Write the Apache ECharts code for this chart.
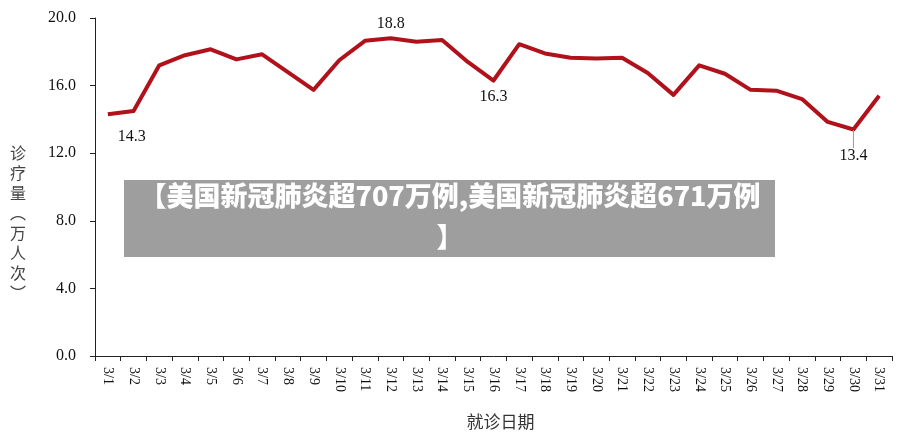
<!DOCTYPE html>
<html>
<head>
<meta charset="utf-8">
<script src="https://cdn.jsdelivr.net/npm/echarts@6/dist/echarts.min.js"></script>
<style>
  html, body { margin: 0; padding: 0; background: #fff; }
  #chart { width: 900px; height: 437px; }
</style>
</head>
<body>
<div id="chart"></div>
<script>
var days = ['3/1', '3/2', '3/3', '3/4', '3/5', '3/6', '3/7', '3/8', '3/9', '3/10',
  '3/11', '3/12', '3/13', '3/14', '3/15', '3/16', '3/17', '3/18', '3/19', '3/20',
  '3/21', '3/22', '3/23', '3/24', '3/25', '3/26', '3/27', '3/28', '3/29', '3/30', '3/31'];
var visits = [14.3, 14.5, 17.2, 17.8, 18.15, 17.55, 17.85, 16.8, 15.75, 17.5,
  18.65, 18.8, 18.6, 18.7, 17.4, 16.3, 18.45, 17.9, 17.65, 17.6,
  17.65, 16.75, 15.45, 17.2, 16.7, 15.75, 15.7, 15.2, 13.85, 13.4, 15.4];
var yTicks = [0, 4, 8, 12, 16, 20];
// which points carry a value label
var labelled = [0, 11, 15, 29];
var yName = '诊\n疗\n量\n︵\n万\n人\n次\n︶';
var bannerText = '【美国新冠肺炎超707万例,美国新冠肺炎超671万例\n】';

var serif = '"Liberation Serif", "DejaVu Serif", serif';
var cjk = '"Noto Sans CJK SC", sans-serif';

var seriesData = visits.map(function (v, i) {
  var item = { value: v };
  if (labelled.indexOf(i) < 0) return item;
  var lab = { show: true, position: 'bottom', distance: 8 };
  if (i === 11) { lab.position = 'top'; lab.distance = 6; }
  if (i === 29) {
    lab.distance = 4;
    item.labelLine = { show: true, lineStyle: { color: '#999', width: 1 } };
  }
  item.label = lab;
  return item;
});

var myChart = echarts.init(document.getElementById('chart'));
var option = {
  backgroundColor: '#fff',
  animation: false,
  grid: { left: 95, right: 8, top: 18, bottom: 81, outerBoundsMode: 'none', containLabel: false },
  xAxis: {
    type: 'category',
    data: days,
    boundaryGap: true,
    axisLine: { lineStyle: { color: '#222', width: 1 } },
    axisTick: { show: true, length: 5, alignWithLabel: false, lineStyle: { color: '#222' } },
    axisLabel: {
      interval: 0, rotate: -90, margin: 11,
      color: '#111', fontFamily: serif, fontSize: 14
    },
    name: '就诊日期',
    nameLocation: 'middle',
    nameGap: 57,
    nameTextStyle: { fontFamily: cjk, fontSize: 17, color: '#333', padding: [0, 0, 0, 14] }
  },
  yAxis: {
    type: 'value',
    min: yTicks[0],
    max: yTicks[yTicks.length - 1],
    interval: 4,
    splitLine: { show: false },
    axisLine: { show: true, lineStyle: { color: '#222', width: 1 } },
    axisTick: { show: true, length: 5, lineStyle: { color: '#222' } },
    axisLabel: {
      margin: 19, color: '#111', fontFamily: serif, fontSize: 16,
      formatter: function (v) { return v.toFixed(1); }
    }
  },
  series: [{
    type: 'line',
    data: seriesData,
    symbol: 'circle',
    symbolSize: 1,
    showSymbol: true,
    itemStyle: { color: 'rgba(0,0,0,0)' },
    lineStyle: { color: '#b0111b', width: 4, join: 'round' },
    label: { show: false, color: '#111', fontFamily: serif, fontSize: 16 },
    labelLine: { show: false },
    labelLayout: function (p) {
      if (p.dataIndex === 0) return { dx: 24, dy: 6 };
      if (p.dataIndex === 29) return { dy: 14 };
      return {};
    }
  }],
  graphic: [
    {
      type: 'text',
      x: 18, y: 143,
      style: {
        text: yName,
        fill: '#444',
        font: '16px "Noto Sans CJK SC", sans-serif',
        lineHeight: 20,
        align: 'center',
        verticalAlign: 'top'
      }
    },
    {
      type: 'rect',
      shape: { x: 124, y: 180, width: 651, height: 77 },
      style: { fill: '#9e9e9e' },
      z: 100
    },
    {
      type: 'text',
      x: 450, y: 175,
      style: {
        text: bannerText,
        fill: '#fff',
        font: '900 27px "Noto Sans CJK SC", sans-serif',
        lineHeight: 41,
        align: 'center',
        verticalAlign: 'top'
      },
      z: 101
    }
  ]
};
myChart.setOption(option, true);
</script>
</body>
</html>
